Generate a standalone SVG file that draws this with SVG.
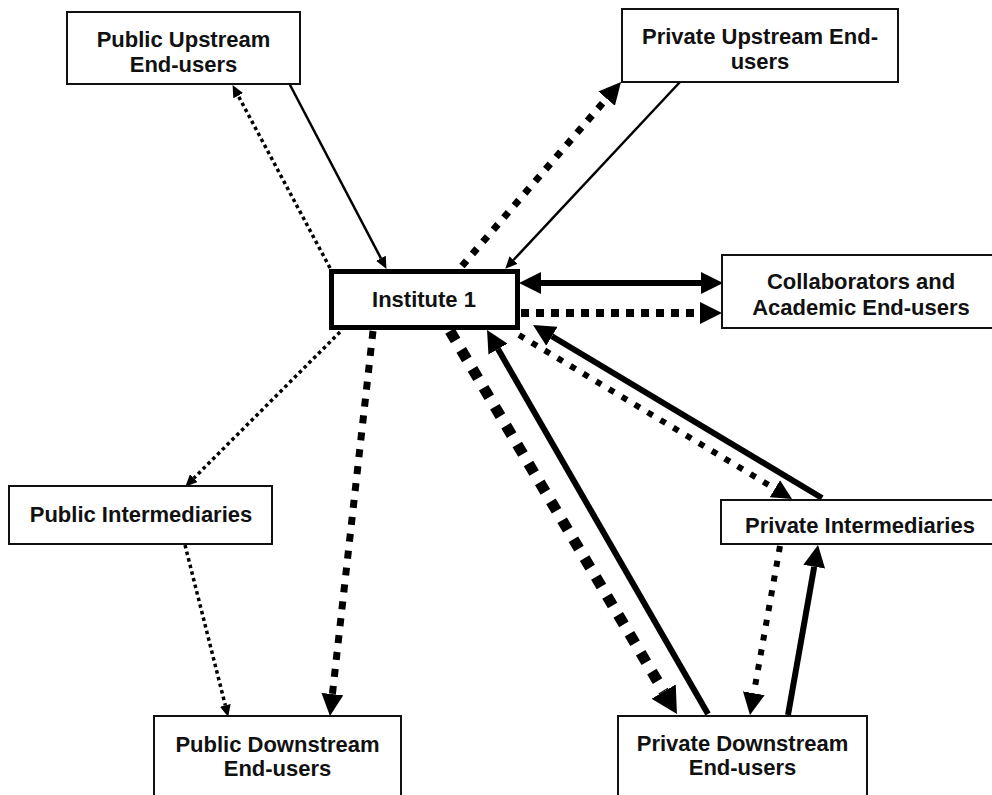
<svg xmlns="http://www.w3.org/2000/svg" width="992" height="795" viewBox="0 0 992 795">
  <style>
    .box { fill: #fff; stroke: #111; stroke-width: 2; }
    .main { fill: #fff; stroke: #000; stroke-width: 5; }
    .lbl { font-family: "Liberation Sans", Arial, sans-serif; font-weight: bold; font-size: 22px; fill: #111; text-anchor: middle; }
    .c { fill: none; stroke: #000; stroke-linecap: butt; }
    .thin { stroke-width: 2.5; }
    .solid { stroke-width: 6; }
    .dot { stroke-width: 3.5; stroke-dasharray: 3.5 3.3; }
    .dash { stroke-width: 7; stroke-dasharray: 7 9; }
    .dashm { stroke-width: 6; stroke-dasharray: 6 9; }
    .dashx { stroke-width: 11; stroke-dasharray: 11 11; }
  </style>
  <defs>
    <!-- arrowheads: base at refX=0, tip extends past the line end -->
    <marker id="sm" markerUnits="userSpaceOnUse" markerWidth="12" markerHeight="11" refX="0" refY="5.5" orient="auto-start-reverse">
      <path d="M0,0 L12,5.5 L0,11 Z" fill="#000"/>
    </marker>
    <marker id="lg" markerUnits="userSpaceOnUse" markerWidth="22" markerHeight="22" refX="0" refY="11" orient="auto-start-reverse">
      <path d="M0,0 L22,11 L0,22 Z" fill="#000"/>
    </marker>
    <marker id="md" markerUnits="userSpaceOnUse" markerWidth="20" markerHeight="20" refX="0" refY="10" orient="auto-start-reverse">
      <path d="M0,0 L20,10 L0,20 Z" fill="#000"/>
    </marker>
    <marker id="xl" markerUnits="userSpaceOnUse" markerWidth="26" markerHeight="28" refX="0" refY="14" orient="auto-start-reverse">
      <path d="M0,0 L26,14 L0,28 Z" fill="#000"/>
    </marker>
  </defs>

  <rect width="992" height="795" fill="#fff"/>

  <g id="connectors">
    <!-- Public Upstream End-users <-> Institute 1 -->
    <line class="c thin" x1="289" y1="83" x2="380.9" y2="258.3" marker-end="url(#sm)"/>
    <line class="c dot" x1="330" y1="268" x2="238.2" y2="95.7" marker-end="url(#sm)"/>
    <!-- Private Upstream End-users <-> Institute 1 -->
    <line class="c dash" x1="462" y1="266" x2="606.6" y2="98.6" marker-end="url(#lg)"/>
    <line class="c thin" x1="680" y1="82" x2="513.5" y2="260" marker-end="url(#sm)"/>
    <!-- Collaborators -->
    <line class="c solid" x1="541" y1="283" x2="701" y2="283" marker-start="url(#lg)" marker-end="url(#lg)"/>
    <line class="c dashx" style="stroke-width:8;stroke-dasharray:8 7" x1="521" y1="313" x2="700" y2="313" marker-end="url(#lg)"/>
    <!-- Public side, downstream -->
    <line class="c dot" x1="340" y1="332" x2="193.8" y2="478.2" marker-end="url(#sm)"/>
    <line class="c dot" x1="185" y1="545" x2="225.3" y2="705.3" marker-end="url(#sm)"/>
    <line class="c dash" style="stroke-dasharray:8 9" x1="373" y1="331" x2="332.4" y2="694.1" marker-end="url(#lg)"/>
    <!-- Private Downstream End-users <-> Institute 1 -->
    <line class="c dashx" x1="450" y1="331" x2="663.7" y2="691.6" marker-end="url(#xl)"/>
    <line class="c solid" x1="708" y1="714" x2="498" y2="349.1" marker-end="url(#lg)"/>
    <!-- Private Intermediaries <-> Institute 1 -->
    <line class="c dashm" x1="519" y1="335" x2="774.9" y2="488.7" marker-end="url(#md)"/>
    <line class="c solid" x1="822" y1="498" x2="551.9" y2="336.3" marker-end="url(#lg)"/>
    <!-- Private Intermediaries <-> Private Downstream End-users -->
    <line class="c dashm" x1="780" y1="546" x2="753.8" y2="693.3" marker-end="url(#lg)"/>
    <line class="c solid" x1="788" y1="715" x2="814.2" y2="566.7" marker-end="url(#lg)"/>
  </g>

  <g id="public-upstream">
    <rect class="box" x="67" y="12" width="233" height="72"/>
    <text class="lbl" x="183.5" y="47">Public Upstream</text>
    <text class="lbl" x="183.5" y="72">End-users</text>
  </g>

  <g id="private-upstream">
    <rect class="box" x="622" y="9" width="276" height="73"/>
    <text class="lbl" x="760" y="44">Private Upstream End-</text>
    <text class="lbl" x="760" y="69">users</text>
  </g>

  <g id="institute-1">
    <rect class="main" x="331.5" y="271.5" width="186" height="56"/>
    <text class="lbl" x="424" y="307">Institute 1</text>
  </g>

  <g id="collaborators">
    <rect class="box" x="722" y="255" width="290" height="73"/>
    <text class="lbl" x="861" y="289">Collaborators and</text>
    <text class="lbl" x="861" y="315">Academic End-users</text>
  </g>

  <g id="public-intermediaries">
    <rect class="box" x="9" y="486" width="263" height="58"/>
    <text class="lbl" x="141" y="522">Public Intermediaries</text>
  </g>

  <g id="private-intermediaries">
    <rect class="box" x="721" y="500" width="290" height="44"/>
    <text class="lbl" x="860" y="533">Private Intermediaries</text>
  </g>

  <g id="public-downstream">
    <rect class="box" x="154" y="716" width="247" height="90"/>
    <text class="lbl" x="277.5" y="752">Public Downstream</text>
    <text class="lbl" x="277.5" y="776">End-users</text>
  </g>

  <g id="private-downstream">
    <rect class="box" x="618" y="716" width="249" height="90"/>
    <text class="lbl" x="742.5" y="751">Private Downstream</text>
    <text class="lbl" x="742.5" y="775">End-users</text>
  </g>
</svg>
